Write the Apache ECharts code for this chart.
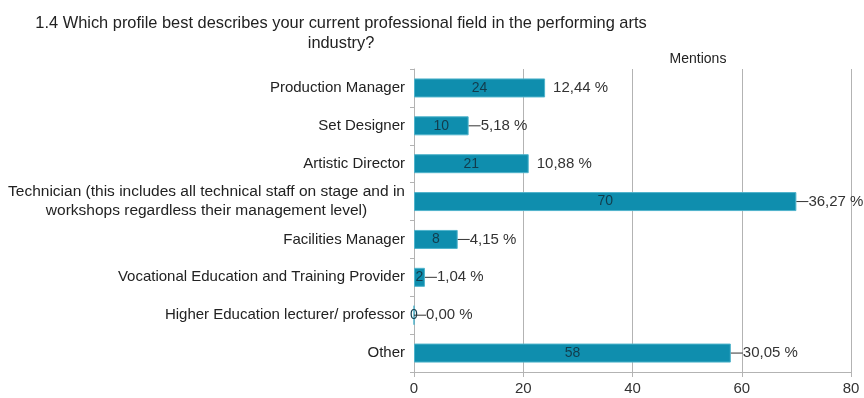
<!DOCTYPE html>
<html>
<head>
<meta charset="utf-8">
<script src="https://cdn.jsdelivr.net/npm/echarts@6/dist/echarts.min.js"></script>
<style>
  html, body { margin: 0; padding: 0; background: #ffffff; }
  #chart { width: 864px; height: 398px; }
</style>
</head>
<body>
<div id="chart"></div>
<script>
// Survey answers, top to bottom
const categories = [
  'Production Manager',
  'Set Designer',
  'Artistic Director',
  'Technician (this includes all technical staff on stage and in\nworkshops regardless their management level)',
  'Facilities Manager',
  'Vocational Education and Training Provider',
  'Higher Education lecturer/ professor',
  'Other'
];
const mentions = [24, 10, 21, 70, 8, 2, 0, 58];
const xTicks = { min: 0, max: 80, step: 20 };
// labels that sit at the end of a short leader line
const withLeader = [false, true, false, true, true, true, true, true];

const total = mentions.reduce((a, b) => a + b, 0);
const pct = v => (v / total * 100).toFixed(2).replace('.', ',') + ' %';

const FONT = '"Liberation Sans", Arial, sans-serif';
const chart = echarts.init(document.getElementById('chart'), null, { renderer: 'canvas' });

chart.setOption({
  animation: false,
  backgroundColor: '#ffffff',
  textStyle: { fontFamily: FONT },
  title: [
    {
      text: '1.4 Which profile best describes your current professional field in the performing arts\nindustry?',
      left: 336, top: 8, textAlign: 'center',
      textStyle: { fontFamily: FONT, fontSize: 16.4, fontWeight: 'normal', color: '#222', lineHeight: 20, align: 'center' }
    },
    {
      text: 'Mentions',
      left: 693, top: 47, textAlign: 'center',
      textStyle: { fontFamily: FONT, fontSize: 14, fontWeight: 'normal', color: '#222' }
    }
  ],
  grid: { left: 414, right: 13, top: 69, bottom: 26, containLabel: false },
  xAxis: {
    type: 'value',
    min: xTicks.min, max: xTicks.max, interval: xTicks.step,
    axisLine: { show: true, lineStyle: { color: '#b3b3b3' } },
    axisTick: { show: true, length: 5, lineStyle: { color: '#b3b3b3' } },
    splitLine: { show: true, lineStyle: { color: '#b3b3b3', width: 1 } },
    axisLabel: { color: '#333', fontSize: 15, margin: 9, fontFamily: FONT }
  },
  yAxis: {
    type: 'category',
    inverse: true,
    data: categories,
    axisLine: { show: true, onZero: false, lineStyle: { color: '#b3b3b3' } },
    axisTick: { show: true, length: 4, alignWithLabel: false, lineStyle: { color: '#b3b3b3' } },
    axisLabel: {
      color: '#222', fontSize: 15, margin: 9, fontFamily: FONT,
      formatter: v => {
        if (v.indexOf('\n') >= 0) {
          return v.split('\n').map(s => '{c|' + s + '}').join('\n');
        }
        return v;
      },
      rich: { c: { width: 397, align: 'center', fontSize: 15.5, lineHeight: 19, color: '#222', fontFamily: FONT } }
    }
  },
  series: [
    {
      type: 'bar',
      data: mentions,
      barWidth: 19,
      itemStyle: { color: '#0f8eae', borderColor: '#4fb3cb', borderWidth: 1 },
      label: {
        show: true, position: 'inside', color: '#123c4c', fontSize: 14, fontFamily: FONT,
        formatter: p => String(p.value)
      },
      z: 3
    },
    {
      type: 'bar',
      data: mentions.map((v, i) => ({
        value: v,
        label: withLeader[i]
          ? { formatter: '{ln|}{t|' + pct(v) + '}', distance: 0 }
          : { formatter: '{t|' + pct(v) + '}', distance: 8 }
      })),
      barWidth: 19,
      barGap: '-100%',
      itemStyle: { color: 'rgba(0,0,0,0)' },
      label: {
        show: true, position: 'right',
        rich: {
          t: { color: '#333', fontSize: 15, fontFamily: FONT },
          ln: { width: 12, height: 1, backgroundColor: '#333' }
        }
      },
      silent: true,
      z: 4
    }
  ]
});
</script>
</body>
</html>
